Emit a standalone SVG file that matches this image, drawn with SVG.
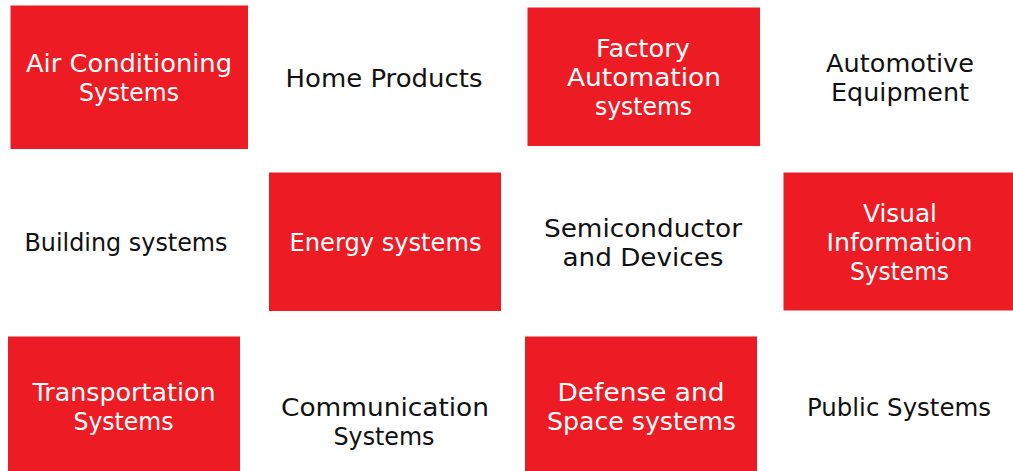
<svg xmlns="http://www.w3.org/2000/svg" width="1013" height="471" viewBox="0 0 1013 471">
<style>
.red{fill:#ED1C24}
text{font-family:"DejaVu Sans","Liberation Sans",sans-serif;font-size:25.5px;text-anchor:middle}
.w{fill:#ffffff}
.k{fill:#111111}
</style>
<rect width="1013" height="471" fill="#ffffff"/>
<g id="air-conditioning"><rect class="red" x="10.5" y="5.5" width="237.5" height="143.5"/><text class="w" x="129" y="72" textLength="206" lengthAdjust="spacingAndGlyphs">Air Conditioning</text><text class="w" x="129" y="101" textLength="100" lengthAdjust="spacingAndGlyphs">Systems</text></g>
<g id="home-products"><text class="k" x="384" y="86.5" textLength="197" lengthAdjust="spacingAndGlyphs">Home Products</text></g>
<g id="factory-automation"><rect class="red" x="527.5" y="7.5" width="232.5" height="138.5"/><text class="w" x="643" y="57" textLength="94" lengthAdjust="spacingAndGlyphs">Factory</text><text class="w" x="644" y="86" textLength="154" lengthAdjust="spacingAndGlyphs">Automation</text><text class="w" x="643.5" y="115" textLength="97" lengthAdjust="spacingAndGlyphs">systems</text></g>
<g id="automotive"><text class="k" x="900" y="72" textLength="148" lengthAdjust="spacingAndGlyphs">Automotive</text><text class="k" x="900" y="101" textLength="138" lengthAdjust="spacingAndGlyphs">Equipment</text></g>
<g id="building"><text class="k" x="126" y="251" textLength="203" lengthAdjust="spacingAndGlyphs">Building systems</text></g>
<g id="energy"><rect class="red" x="269" y="172.5" width="232" height="138.5"/><text class="w" x="385.5" y="251" textLength="192" lengthAdjust="spacingAndGlyphs">Energy systems</text></g>
<g id="semiconductor"><text class="k" x="643" y="237" textLength="198" lengthAdjust="spacingAndGlyphs">Semiconductor</text><text class="k" x="643" y="265.5" textLength="161" lengthAdjust="spacingAndGlyphs">and Devices</text></g>
<g id="visual-information"><rect class="red" x="783.5" y="172.5" width="229.5" height="138"/><text class="w" x="900" y="222" textLength="74" lengthAdjust="spacingAndGlyphs">Visual</text><text class="w" x="899.5" y="251" textLength="146" lengthAdjust="spacingAndGlyphs">Information</text><text class="w" x="899.5" y="280" textLength="99" lengthAdjust="spacingAndGlyphs">Systems</text></g>
<g id="transportation"><rect class="red" x="8" y="336.5" width="232" height="134.5"/><text class="w" x="124" y="401" textLength="183" lengthAdjust="spacingAndGlyphs">Transportation</text><text class="w" x="123.5" y="430" textLength="100" lengthAdjust="spacingAndGlyphs">Systems</text></g>
<g id="communication"><text class="k" x="385" y="416" textLength="208" lengthAdjust="spacingAndGlyphs">Communication</text><text class="k" x="384" y="445" textLength="101" lengthAdjust="spacingAndGlyphs">Systems</text></g>
<g id="defense-space"><rect class="red" x="525" y="336.5" width="232" height="134.5"/><text class="w" x="641" y="401" textLength="167" lengthAdjust="spacingAndGlyphs">Defense and</text><text class="w" x="641.5" y="430" textLength="189" lengthAdjust="spacingAndGlyphs">Space systems</text></g>
<g id="public"><text class="k" x="899" y="416" textLength="184" lengthAdjust="spacingAndGlyphs">Public Systems</text></g>
<g id="connectors"/>
</svg>
